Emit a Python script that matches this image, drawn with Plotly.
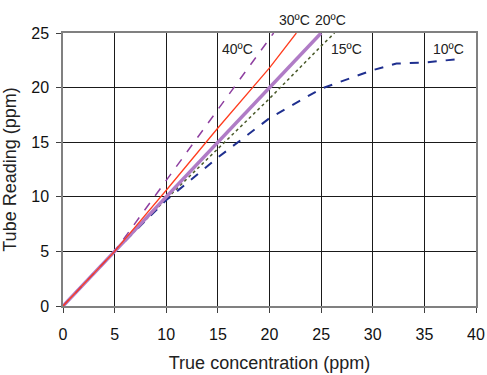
import plotly.graph_objects as go

# true concentration (ppm) vs tube reading (ppm) at each temperature
x_40c = [0, 5, 10, 15, 20, 20.4]
y_40c = [0, 5, 11.5, 18.0, 24.5, 25]

x_30c = [0, 5, 10, 15, 20, 22.6]
y_30c = [0, 5, 10.6, 16.3, 21.8, 25]

x_20c = [0, 5, 10, 15, 20, 25]
y_20c = [0, 5, 10, 15, 20, 25]

x_15c = [0, 5, 10, 15, 20, 25, 26.3]
y_15c = [0, 5, 9.8, 14.4, 19.0, 23.8, 25]

x_10c = [0, 5, 10, 15, 20, 25, 30, 32.3, 35.2, 38.1]
y_10c = [0, 5, 9.7, 13.6, 17.2, 19.9, 21.6, 22.2, 22.3, 22.6]

labels = ["40ºC", "30ºC", "20ºC", "15ºC", "10ºC"]
label_x = [16.9, 22.4, 25.9, 27.5, 37.3]
label_y = [23.5, 26.2, 26.2, 23.5, 23.5]

FONT = "Arial, Liberation Sans"

fig = go.Figure()

fig.add_trace(go.Scatter(x=x_15c, y=y_15c, mode="lines",
                         line=dict(color="#4a5a2a", width=1.5, dash="dot")))
fig.add_trace(go.Scatter(x=x_10c, y=y_10c, mode="lines",
                         line=dict(color="#1f2f8f", width=2, dash="dash")))
fig.add_trace(go.Scatter(x=x_20c, y=y_20c, mode="lines",
                         line=dict(color="#b07cc6", width=3.5)))
fig.add_trace(go.Scatter(x=x_40c, y=y_40c, mode="lines",
                         line=dict(color="#8e3fa0", width=1.5, dash="dash")))
fig.add_trace(go.Scatter(x=x_30c, y=y_30c, mode="lines",
                         line=dict(color="#ff3c1e", width=1.3)))

# labels placed in paper coords so the ones above the plot are not hidden
for t, lx, ly in zip(labels, label_x, label_y):
    fig.add_annotation(x=lx, y=ly / 25, yref="paper", yanchor="middle",
                       text=t, showarrow=False,
                       font=dict(family=FONT, size=14, color="#222"))

axis_common = dict(
    showgrid=True, gridcolor="#1a1a1a", gridwidth=1,
    showline=True, linecolor="#808080", linewidth=1.5,
    ticks="outside", ticklen=5, tickcolor="#404040",
    zeroline=False, automargin=False,
    tickfont=dict(family=FONT, size=16, color="#111"),
)

fig.update_xaxes(range=[0, 40], dtick=5, mirror=True, ticklabelstandoff=8,
                 **axis_common,
                 title=dict(text="True concentration (ppm)", standoff=14,
                            font=dict(family=FONT, size=18, color="#222")))
fig.update_yaxes(range=[0, 25], dtick=5, mirror=True, ticklabelstandoff=4,
                 **axis_common,
                 title=dict(text="Tube Reading (ppm)", standoff=10,
                            font=dict(family=FONT, size=18, color="#222")))

fig.update_layout(
    width=487, height=375,
    margin=dict(l=63, r=11, t=33, b=69),
    font=dict(family=FONT),
    plot_bgcolor="white", paper_bgcolor="white",
    showlegend=False,
)

# drop the page's default body margin so the figure sits at the window corner
fig.write_html("out.html",
               config={"displayModeBar": False},
               post_script="document.body.style.margin='0';"
                           "document.body.style.overflow='hidden';")
